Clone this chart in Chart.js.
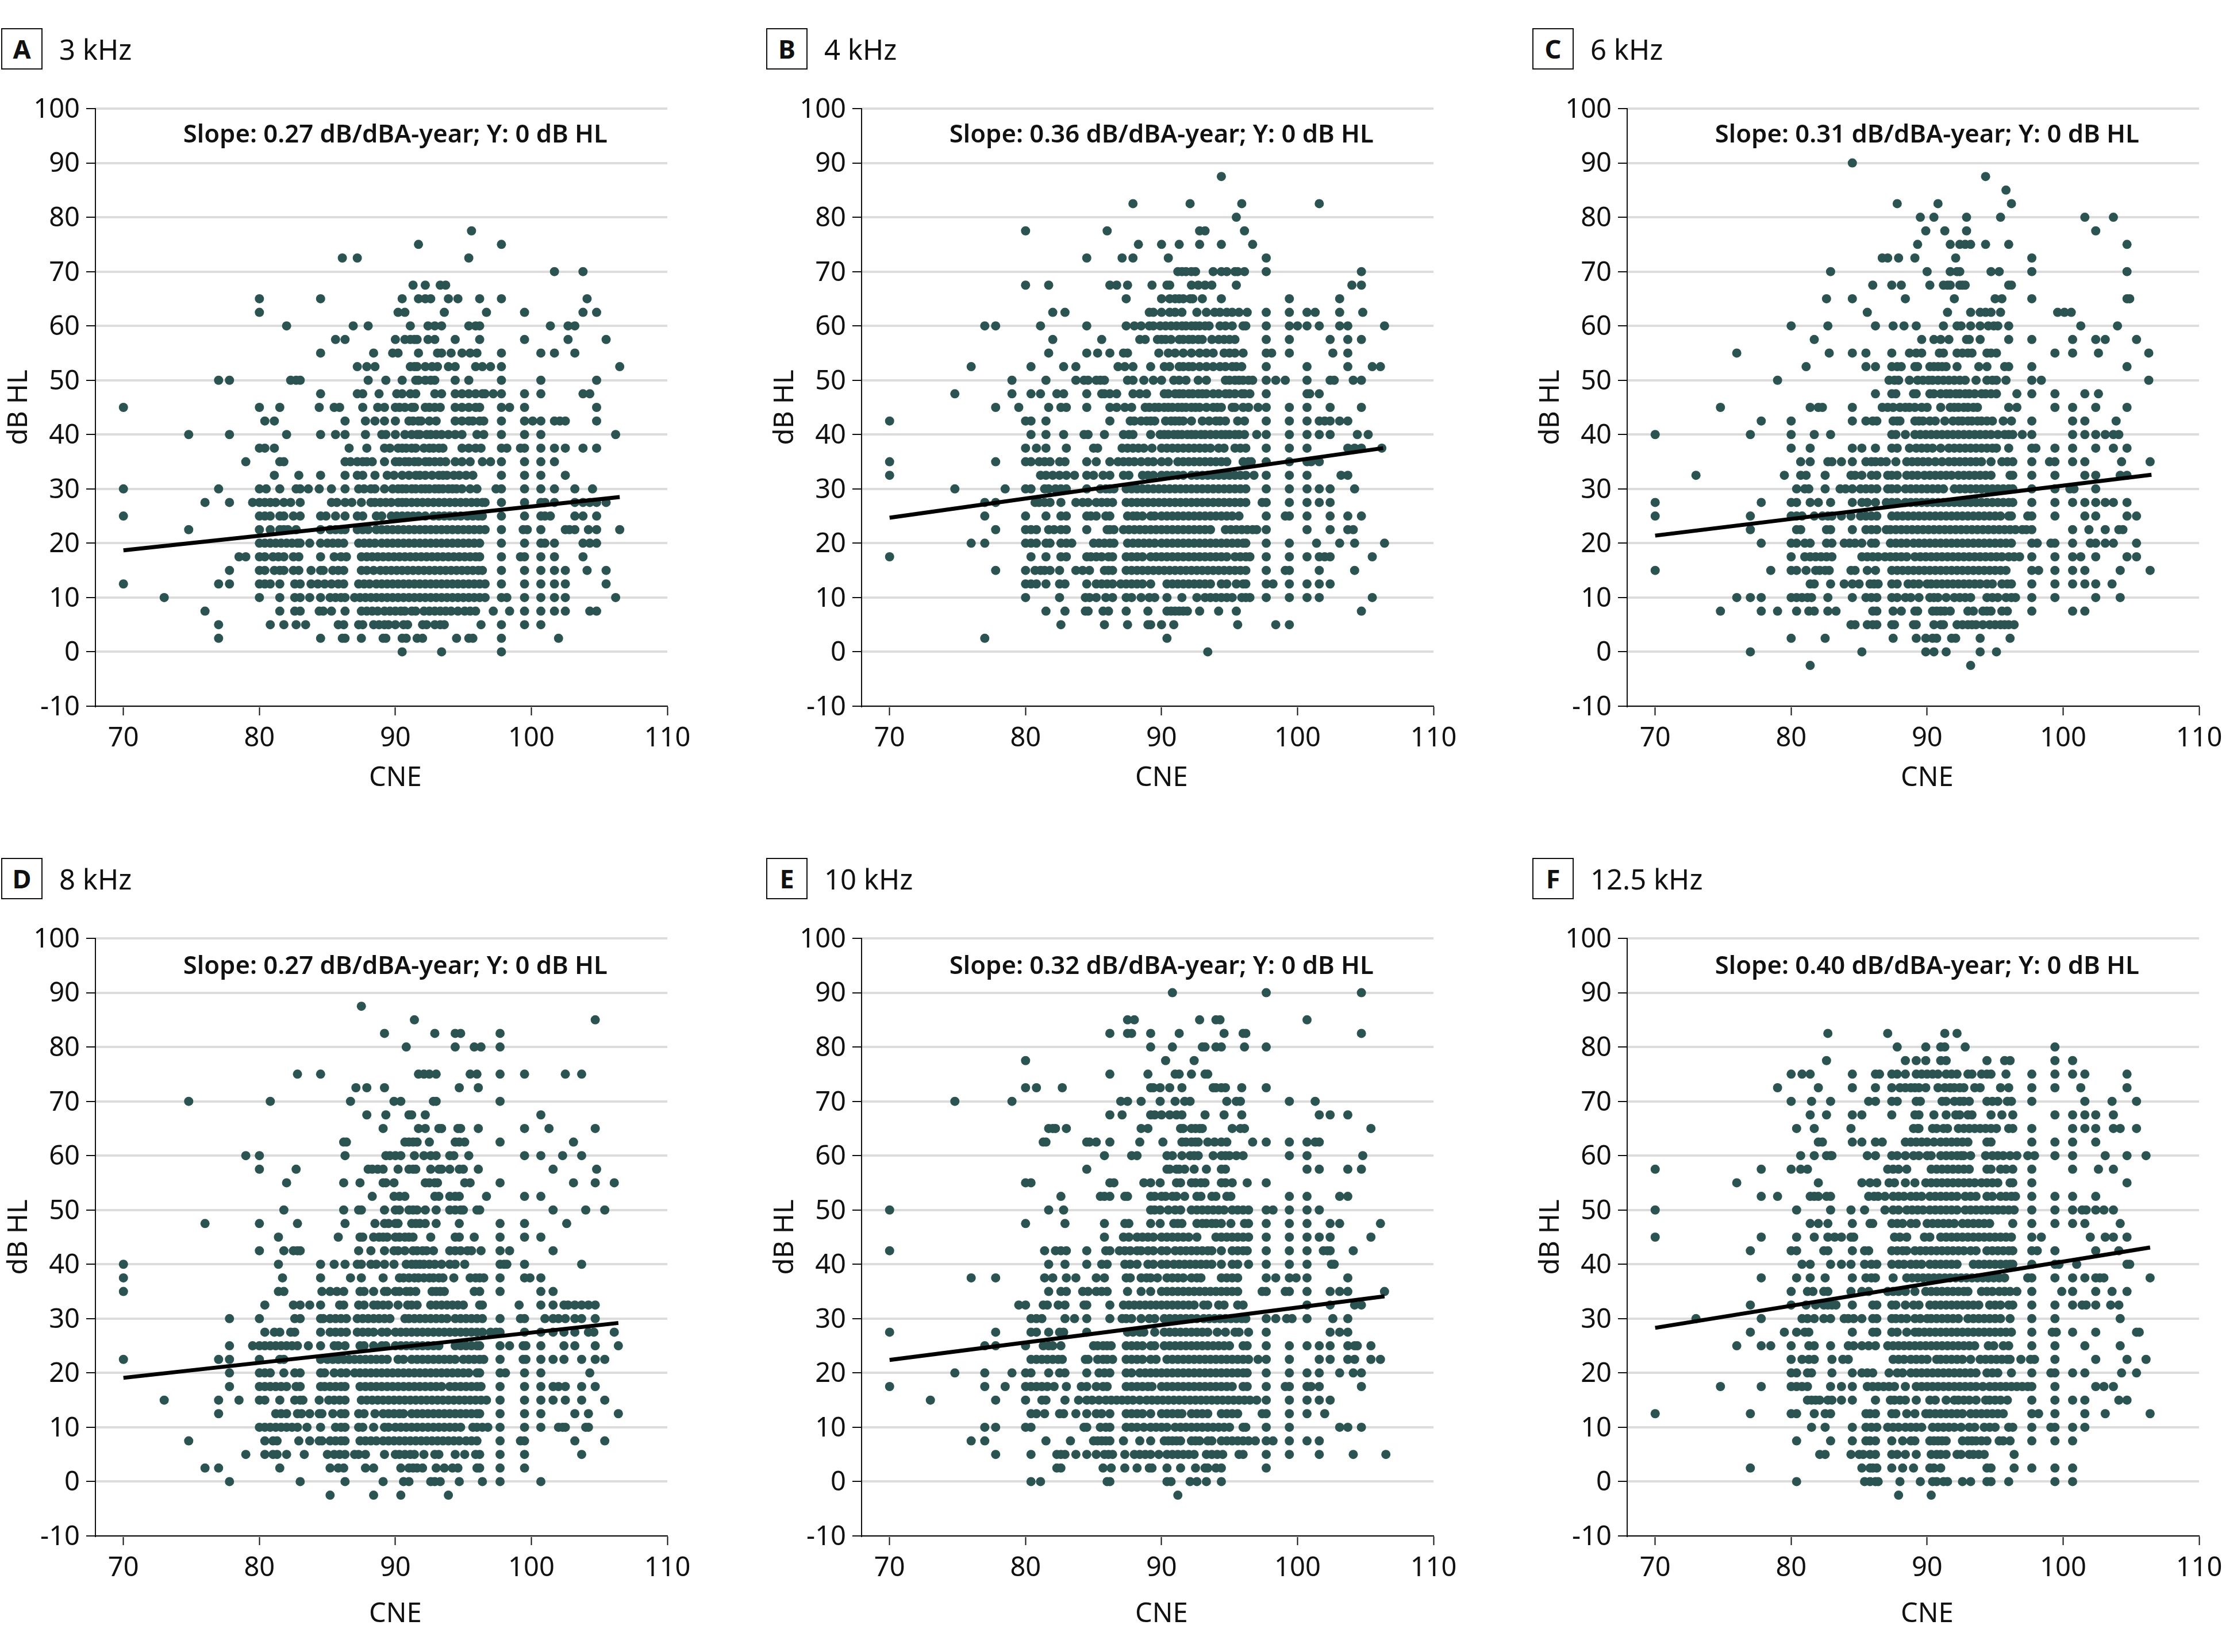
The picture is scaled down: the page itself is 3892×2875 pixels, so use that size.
<!DOCTYPE html>
<html>
<head>
<meta charset="utf-8">
<title>Hearing level by CNE</title>
<script src="https://cdn.jsdelivr.net/npm/chart.js@4/dist/chart.umd.min.js"></script>
<style>
  body { margin: 0; background: #fff; width: 3892px; height: 2875px; position: relative; overflow: hidden; }
  canvas { position: absolute; }
  .tag { position: absolute; width: 68px; height: 68px; border: 2px solid #111; font: 700 45px "Noto Sans", sans-serif; color: #111; text-align: center; line-height: 68px; }
  .freq { position: absolute; font: 400 49px "Noto Sans", sans-serif; color: #111; line-height: 72px; white-space: nowrap; }
</style>
</head>
<body>
<script>
// each row: [dB HL, [CNE values read along that row]]
const pointsA = [
  [77.5,[95.6]],[75,[91.7,97.8]],[72.5,[86.1,87.2,95.4]],[70,[101.7,103.8]],
  [67.5,[91.3,92.2,93.3,93.7]],
  [65,[80,84.5,90.5,91.7,92.2,92.6,93.9,94.6,96.2,97.8,104.1]],
  [62.5,[80,90.2,90.7,93.6,96.7,99.5,103.8,104.8]],
  [60,[82,86.9,88,91.1,92.4,92.9,93.4,95.4,95.9,96.2,101.4,102.7,103.2]],
  [57.5,[85.6,86.3,90,90.7,91.1,91.4,91.6,92.4,92.9,94.4,96.2,99.5,102.7,105.5]],
  [55,[84.5,88.4,89.8,90.2,91.7,93.1,93.4,94.1,94.9,95.5,96,97.8,100.7,101.7,103.2]],
  [52.5,[87.2,87.9,88.5,91.1,91.4,91.6,92.2,92.7,93.1,93.9,94.4,95.9,96.4,97,97.8,106.5]],
  [50,[77,77.8,82.3,82.7,83,88,89.3,90.5,91.5,91.7,92.2,92.6,92.9,94.4,95.4,97.8,100.7,104.8]],
  [47.5,[84.5,87.2,87.6,88.8,90.1,90.5,91.1,91.5,92.9,93.4,94.4,94.9,95.4,95.9,96.4,96.6,97.2,97.8,99.5,100.7,103.8,104.3]],
  [45,[70,80,81.5,84.4,85.5,85.9,87.6,88.7,89.2,90,90.3,90.7,91.2,91.4,92.2,92.5,92.9,93.3,94.4,94.9,95.4,95.9,96.2,97.8,98.4,99.5,104.8]],
  [42.5,[80.4,81.1,86.3,87.8,88.5,89.2,90,91,91.3,91.7,91.9,92.5,93,94.4,94.9,95.4,95.7,96.2,96.5,97.8,99.5,100.1,100.7,101.7,102.1,102.5,104.8]],
  [40,[74.8,77.8,82,84.5,85.6,86.3,87.8,89,89.3,90,90.7,91.2,91.6,91.8,92.3,92.6,93,93.4,93.9,94.4,94.9,96,96.5,97.8,99.5,100.7,106.2]],
  [37.5,[80,80.4,81.1,86.6,87.9,89.2,89.6,90.2,90.5,90.8,91.2,91.5,92.1,92.5,92.8,93.2,93.5,94.9,95.4,95.9,96.3,97.8,98.2,99.2,99.5,100.7,101.7,102.5,103.8,104.8]],
  [35,[79,81.5,81.8,86.3,86.7,87.2,87.6,87.9,88.3,89.2,90,90.3,90.7,91,91.4,91.7,92.2,92.5,92.9,93.3,93.7,94.4,94.9,95.5,96.4,97,97.8,99.5,100.7,101.7]],
  [32.5,[81.1,82.9,84.5,86.3,87.2,87.6,88.5,89.4,89.9,90.5,91,91.5,91.8,92.2,92.7,93.2,93.5,93.8,94.3,94.7,95.2,95.7,97.8,99.5,100.7,102.5]],
  [30,[70,77,80,80.5,81.5,82.7,83,83.6,84.4,85.3,86.3,87.3,87.7,88.2,88.5,89.2,89.8,90.2,90.5,90.8,91.2,91.5,91.9,92.2,92.5,92.9,93.2,93.5,93.9,94.2,94.5,94.9,95.5,96,97.4,97.8,99.5,100.7,101.7,103.2,104.5]],
  [27.5,[76,77.8,79.5,80,80.4,80.8,81.2,81.8,82.3,83,85.3,85.7,86.3,86.8,87.5,88.2,88.5,88.9,89.3,89.7,90.2,90.5,90.8,91.2,91.6,92,92.4,92.8,93.2,93.6,94,94.4,94.8,95.2,95.6,96,96.4,96.6,97.8,99.5,100.7,101,101.7,103.2,103.8,104.3,104.8,105.5]],
  [25,[70,80,80.4,80.8,81.5,81.8,82.5,83,84.5,84.9,85.6,86.3,87.2,87.6,88.6,89,89.7,90.1,90.5,90.9,91.3,91.7,92.2,92.8,93.2,93.6,94,94.4,94.8,95.3,95.7,96.1,96.4,97.8,99.5,100.7,101,101.4,103.2,103.8,104.8]],
  [22.5,[74.8,80,80.8,81.5,81.8,82.1,82.7,84.5,85.2,85.6,86,86.3,87.2,87.6,88,88.6,89,89.4,89.8,90.2,90.6,91,91.4,91.8,92.2,92.6,93,93.4,93.8,94.2,94.6,95,95.4,95.8,96.2,96.6,97.8,99.4,99.7,100.7,102.5,102.8,103.2,104.2,104.8,106.5]],
  [20,[80,80.4,80.8,81.2,81.6,82,82.4,82.8,83,83.7,84.5,85,85.4,85.8,86.2,87.3,87.7,88.1,88.5,89,89.4,89.8,90.2,90.6,91,91.4,91.8,92.2,92.6,93,93.4,93.8,94.2,94.6,95,95.4,95.8,96.2,97.8,99.5,100.7,101,101.7,103.8,104.3,104.8]],
  [17.5,[78.5,79,80,80.4,81,81.4,81.8,82.5,82.9,84.5,85.5,86,86.4,87.5,87.9,88.3,88.7,89.1,89.5,89.9,90.3,90.7,91.1,91.5,91.9,92.3,92.7,93.1,93.5,93.9,94.3,94.7,95.1,95.5,95.9,96.2,97.8,99.2,99.5,100.7,101.7,103.8]],
  [15,[77.8,80,80.4,81.1,81.5,81.8,82.5,82.9,83.8,84.5,84.7,85.4,85.8,86.2,87.5,87.9,88.4,88.9,89.3,89.7,90.1,90.5,90.9,91.3,91.7,92.1,92.5,92.9,93.3,93.7,94.1,94.5,94.9,95.3,95.7,96.1,96.4,97.8,99.5,100.7,101.7,102.5,104.1,105.5]],
  [12.5,[70,77,77.8,80,80.4,80.8,81.5,82.6,83,83.8,84.3,84.8,85.3,85.8,86.2,87.3,87.7,88.1,88.6,89,89.4,89.8,90.2,90.6,91,91.4,91.8,92.2,92.6,93,93.4,93.8,94.2,94.6,95,95.4,95.8,96.2,96.6,97.8,99.5,100.7,101.7,102.5,105.5]],
  [10,[73,80,81.5,82.6,83,83.7,84.5,85.2,85.6,86,86.3,87,87.4,87.8,88.2,88.6,89,89.4,89.8,90.2,90.6,91,91.4,91.8,92.2,92.6,93,93.4,93.8,94.2,94.6,95,95.4,95.8,96.2,96.6,97.8,98.2,99.5,100.7,101.7,102.5,106.2]],
  [7.5,[76,81.5,82.6,83,84.4,84.7,85.3,86.3,87.5,87.9,88.3,88.7,89.2,89.6,90,90.4,90.7,91.2,91.5,92.1,92.5,92.9,93.3,93.7,94.1,94.6,95.1,95.5,95.9,97.2,98.4,99.5,100.7,101.7,102.5,104.3,104.8]],
  [5,[77,80.8,81.8,82.7,83.4,85.8,86.2,87.3,87.6,88.4,88.8,89.2,89.5,90,90.6,90.9,92,92.3,92.9,93.3,93.6,96.3,97.8,99.5,100.7]],
  [2.5,[77,84.5,86.1,86.3,87.5,89.1,89.3,90.5,90.8,91.6,92,94.5,95.4,95.7,97.8,102]],
  [0,[90.5,93.4,97.8]]
];

const pointsB = [
  [87.5,[94.4]],[82.5,[87.9,92.1,95.9,101.6]],[80,[95.5]],[77.5,[80,86,92.8,93.2,96.1]],
  [75,[88.3,90,91.3,92.8,94.4,96.7]],[72.5,[84.5,87.1,87.9,90.5,97.7]],
  [70,[91.2,91.5,91.8,92.2,92.5,93.8,94.4,94.8,95.4,95.6,96.1,97.7,104.7]],
  [67.5,[80,81.7,86.2,86.7,87.5,89.3,90.4,90.6,92.2,92.7,93.2,93.7,95.5,104,104.7]],
  [65,[87.4,90,90.6,91,91.3,91.6,92.1,92.3,93,94.4,99.4,103.1]],
  [62.5,[82,82.9,89.1,89.4,90,90.6,91,91.5,92.6,93.3,93.9,94.3,94.8,95.2,95.7,96.3,97.7,99.4,100.7,101.3,103.1,104.8]],
  [60,[77,77.8,81.1,84.5,87.4,88,88.5,89.1,89.4,89.9,90.3,90.7,91.1,91.5,91.8,92.2,92.5,92.8,93.2,93.5,94.3,94.7,95.2,96,96.2,97.7,99.4,100,100.7,101.6,103.1,103.7,106.4]],
  [57.5,[82,85.6,88.4,88.8,89.7,90,90.3,90.7,91.3,91.6,92,92.3,92.7,93,93.7,94.2,94.6,95,95.4,97.7,99.4,102.4,103.7,104.7]],
  [55,[81.7,84.5,85.3,86.2,87.2,87.5,89.8,90.5,91,91.6,92.2,92.8,93.3,93.8,94.6,95,95.4,96,97.7,98.1,99.4,102.6,103.7]],
  [52.5,[76,80.4,82.8,83.7,86.8,87.3,87.9,89.2,90.2,90.6,91.3,91.6,92,92.3,92.8,93.3,93.8,94.3,94.7,95.2,95.5,95.9,97.7,100.7,103.7,105.5,106.1]],
  [50,[79,81.5,83.7,84.3,84.6,85.2,85.5,85.8,87.5,87.9,88.7,89.4,90,90.9,91.3,91.8,92.7,93.3,94.7,95,95.4,95.7,96,96.4,96.7,97.7,98.4,99.1,100.7,102.4,102.7,104.1,104.7]],
  [47.5,[74.8,79,80.4,81.1,82.3,82.8,84.5,85.6,85.8,86.2,86.7,87.9,88.4,88.9,90.2,90.5,91,91.3,91.6,92,92.3,92.7,93,93.3,93.8,94.2,94.7,95,95.4,95.9,96.1,96.5,97.7,100.7,100.9,101.6]],
  [45,[77.8,79.5,81.7,82.6,83,84.5,86.2,86.7,87.3,87.8,88.8,89.1,89.5,89.8,90.2,90.5,90.8,91.2,91.5,91.8,92.2,92.5,92.8,93.3,93.8,94.1,94.4,95.2,95.4,96,96.4,97.1,97.7,99.4,100.7,102.4,104.7]],
  [42.5,[70,80,80.4,81.5,86.2,87.7,88,88.5,88.9,89.2,89.5,90.3,90.7,91,91.3,91.6,92.2,93,93.5,94,94.3,94.7,95.6,96.1,97.7,99.4,100.7,101.6,102,102.4,103.1,103.7]],
  [40,[80.4,81.5,82.8,84.3,84.6,85.8,87.2,87.6,87.9,89.2,89.9,90.2,90.5,90.9,91.2,91.5,91.9,92.2,92.5,92.9,93.2,93.6,94,94.4,94.7,95,95.4,95.7,96.1,97,97.7,99.4,100.7,101.6,102.4,104.4,105.2]],
  [37.5,[80,80.8,81.5,83,85,85.3,87.1,87.5,87.9,88.3,88.7,89.3,90,90.4,90.8,91.2,91.6,92,92.4,92.8,93.2,93.6,94.2,94.6,95.4,95.8,96.2,97.7,99.4,100.7,103.7,104.2,104.7,106.2]],
  [35,[70,77.8,80,80.4,81,81.4,81.8,82.5,82.9,84.5,85.2,86.2,86.8,87.2,87.6,88,88.5,89,89.4,90,90.5,91.2,91.6,92,92.4,92.8,93.2,93.6,94,94.4,94.8,96,96.4,96.6,97.7,99.4,100.7,101,101.6]],
  [32.5,[70,81.1,81.5,82,82.5,83,83.6,84.5,85,85.7,86.2,87.2,87.6,88.6,89,89.4,90,90.4,90.8,91.2,91.6,92.2,92.6,93,93.4,93.8,94.2,94.6,95,95.4,95.8,96.2,96.8,97.7,99.4,100.7,103.2,103.7]],
  [30,[74.8,78.5,80,80.4,81.4,81.7,82.2,82.6,83,84.5,85.5,85.9,86.2,86.5,87.4,87.8,88.2,88.6,89,89.4,89.8,90.2,90.6,91,91.4,91.8,92.2,92.6,93,93.4,93.8,94.2,94.6,95,95.4,95.8,96.2,97.7,99.4,100.7,101.6,102.4,104.2]],
  [27.5,[77,77.8,80.7,81,81.4,81.8,82.6,83.7,84.2,84.6,85.2,85.6,86,86.4,87.4,87.8,88.2,88.6,89,89.4,89.8,90.2,90.6,91,91.4,91.8,92.2,92.6,93,93.4,93.8,94.2,94.6,95,95.4,95.8,96.2,97.4,97.7,99.4,100.7,101.6,102.4]],
  [25,[77,80,81.5,82.6,83,84.5,84.8,85.2,85.9,86.2,87.5,87.9,88.2,88.6,89.2,89.5,90,90.4,90.8,91.2,91.6,92,92.4,92.8,93.2,93.6,94,94.4,94.8,95.2,95.7,97.7,99.1,99.4,100.7,102.4,103.7,104.7]],
  [22.5,[77.8,80,80.4,80.8,81.7,82.1,82.6,83,84.5,86,86.2,86.5,87.2,87.6,88,88.4,88.8,89.2,89.6,90,90.4,90.8,91.2,91.6,92,92.4,92.8,93.2,93.6,94.7,95.1,95.5,95.9,96.3,96.7,97,97.7,100.7,102.4,103.7,104.1]],
  [20,[76,77,80,80.4,80.8,81.5,81.8,82.6,83,83.4,85,85.4,85.8,86.2,86.5,87.5,87.9,88.3,88.7,89.1,89.5,90,90.4,90.8,91.2,91.6,92,92.4,92.8,93.2,93.6,94,94.4,94.8,95.2,95.6,96,96.2,97.7,99.4,101.4,103.1,104.2,106.4]],
  [17.5,[70,80.4,81.5,82.6,83,84.5,84.8,85.2,85.6,86.1,86.4,87.4,87.8,88.2,88.6,89.2,89.6,90,90.4,90.8,91.2,91.6,92,92.4,92.8,93.2,93.6,94,94.4,94.8,95.4,95.8,96.2,96.5,97.7,99.4,100.7,101.6,102,102.4,105.5]],
  [15,[77.8,80,80.7,81.1,81.4,81.8,82.5,83.7,84.2,84.7,85.8,86.1,86.4,87.4,87.8,88.2,88.6,89,89.4,89.8,90.2,90.6,91,91.4,91.8,92.2,92.6,93,93.4,93.8,94.2,94.6,95,95.4,95.8,96.2,97.7,99.1,99.4,101.6,104.2]],
  [12.5,[80,80.4,80.8,81.5,82.5,82.9,84.5,85.2,85.6,86,86.4,87,87.4,87.8,88.2,88.6,89.2,90.4,90.8,91.2,91.6,92,92.4,92.8,93.2,93.6,94.4,94.8,95.5,96,96.2,97.7,98.2,99.4,100.7,101.6,102.4]],
  [10,[80,82.5,84.4,84.7,85.2,85.9,86.4,87.4,87.8,88.5,89.1,89.5,90.4,91.5,92.6,93.2,93.6,94,94.4,94.8,95.2,95.9,96.2,96.5,97.7,99.4,100.7,101.6,105.5]],
  [7.5,[81.5,82.9,84.4,84.6,85.7,86.1,87.4,89,90.4,90.7,91,91.3,91.6,91.9,92.8,94.2,95.5,104.7]],
  [5,[82.6,85.8,87.5,89,89.2,90,90.9,95.6,98.4,99.4]],
  [2.5,[77,90.4]],[0,[93.4]]
];

const pointsC = [
  [90,[84.5]],[87.5,[94.3]],[85,[95.8]],[82.5,[87.8,90.8,96.2]],
  [80,[89.5,90.5,92.9,95.4,101.6,103.7]],[77.5,[89.9,91.3,92.9,102.4]],
  [75,[89.3,91.7,92.4,92.8,93.2,94.3,96,104.7]],[72.5,[86.7,87.1,87.9,89.1,92.1,97.7]],
  [70,[82.9,90,91.7,92.2,92.4,94.7,95.3,97.7,104.7]],
  [67.5,[86,87.4,88.1,90.2,91.2,91.5,91.7,92.4,92.6,92.8,96,96.2]],
  [65,[82.6,84.5,88.4,92,95,95.5,97.7,104.7,104.9]],
  [62.5,[85.6,91.5,93.2,93.9,94.3,94.7,95.4,99.6,100.1,100.6]],
  [60,[80,82.7,86.2,87.5,88.3,89.2,91.2,92.2,92.5,93.2,93.9,94.5,94.9,95.2,96,101.3,104]],
  [57.5,[81.7,89.6,90.5,91,91.6,92.9,93.1,93.9,96,97.7,100.7,102.4,103.1,105.4]],
  [55,[76,82.8,84.5,85.5,87.4,88.7,89.2,89.6,90.9,91.2,92.2,92.6,93,93.3,94.4,94.7,95.1,99.4,100.7,102.6,106.3]],
  [52.5,[81.1,85.5,86.2,87.4,87.8,88.1,89.1,89.3,90.2,90.5,90.8,91.1,91.4,92.2,93.8,94.4,95.7,96,97.7,104.7]],
  [50,[79,87.2,87.6,87.9,88.7,89.3,89.7,90.1,90.4,90.8,91.2,91.6,92,92.4,92.8,93.6,94.4,94.8,95.1,95.8,97.7,98.4,106.3]],
  [47.5,[86.2,87.4,87.7,89,89.2,90.2,90.5,91,91.4,91.7,92.1,92.4,92.8,93.1,93.5,94,94.3,94.7,95.1,96.6,97.7,99.4,101.6,102.6]],
  [45,[74.8,81.4,82,82.3,84.5,86.7,87.1,87.5,88,88.4,88.7,89.1,89.6,90,91,91.7,92,92.3,92.7,93,93.4,93.7,96,96.6,99.4,100.7,102.4,104.7]],
  [42.5,[77.8,80,84.5,85.5,86,86.3,87.5,87.8,88,89.1,89.4,89.7,90.2,90.6,91.3,91.9,92.3,92.6,93,93.3,93.7,94,94.4,94.8,95.6,96.2,97.7,100.7,101.6,103.9]],
  [40,[70,77,80,81.7,82.9,87.4,87.7,88.4,89.1,89.5,89.9,90.3,90.7,91.1,91.5,91.9,92.3,92.7,93.1,93.5,93.9,94.3,94.7,95.2,95.7,96,96.3,97,97.7,100.7,101.6,102.4,103.1,103.7,104.1]],
  [37.5,[80,81.4,84.5,85.2,86.2,87.4,87.8,88.7,89.2,89.6,90,90.4,91,91.6,92,92.4,92.8,93.2,93.6,94,94.4,94.8,95.1,96,97.7,98,99.4,100.7,102.4,103.7,104.7]],
  [35,[80.7,81.4,82.7,83,83.7,84.5,85.5,85.9,86.2,86.6,87,87.7,88.5,88.9,89.3,89.7,90.1,90.6,91.1,91.6,92,92.4,92.8,93.2,93.6,94,94.7,95.5,95.9,96.3,97.7,99,99.4,100.7,101.6,104.3,106.4]],
  [32.5,[73,79.5,80.7,81.1,82.5,84.4,84.7,85.2,85.9,86.3,87.1,87.4,87.8,88.5,88.9,89.3,89.8,90.2,90.6,91,91.4,91.8,92.3,92.7,93.1,93.5,93.9,94.3,94.7,96.1,96.3,97.7,99.4,101.6,102.4,104.2,104.7]],
  [30,[80.4,81,81.3,82.5,83.6,84,84.5,85.1,85.5,85.9,86.3,87.1,87.4,87.8,88.4,88.8,89.2,89.6,90,90.4,90.8,91.2,92,92.4,92.8,93.2,93.6,94,94.4,94.8,95.2,95.6,96,96.3,97.7,99.4,100.5,100.8,102.4]],
  [27.5,[70,77.8,80,80.4,81.4,82,82.9,84.5,85.2,85.6,86.2,87,87.4,87.8,88.4,88.8,89.2,89.6,90,90.4,90.8,91.2,91.6,92,92.4,92.8,93.2,93.6,94,94.4,94.8,95.2,95.6,96,96.3,97.7,99.4,100.7,101.6,102.4,103.1,103.7,104.7]],
  [25,[70,77,80,80.4,80.8,81.7,82.3,82.7,83,83.7,84.4,85.1,85.5,85.9,86.3,87.4,87.8,88.2,88.6,89,89.4,89.8,90.2,90.6,91,91.4,91.8,92.2,92.6,93,93.4,93.8,94.2,94.6,95,95.4,96,96.2,97.4,97.7,99.4,101.6,102.4,104.7,105.4]],
  [22.5,[77,80.4,80.7,82.6,82.9,84.5,85.5,85.9,86.3,87,87.3,87.7,88.1,88.5,88.9,89.3,89.7,90.1,90.5,90.9,91.3,91.7,92.1,92.5,92.9,93.3,93.7,94.1,94.5,94.9,95.3,95.7,96.1,96.5,97,97.3,97.7,100.7,101.9,103.1,104.1,104.4]],
  [20,[77.8,80,80.4,81,81.4,82.6,83,83.9,84.3,84.7,85.2,85.9,86.2,87.3,87.7,88.1,88.5,89,89.4,89.8,90.2,90.6,91,91.4,91.8,92.2,92.6,93,93.4,93.8,94.2,94.6,95,95.4,95.8,96.2,97.7,98.1,99.1,99.4,100.7,102,102.4,103.1,103.7,105.4]],
  [17.5,[80,81,81.4,81.8,82.2,82.6,83,85.2,85.6,86,86.4,86.9,87.3,87.7,88.1,88.5,89.1,89.5,89.9,90.3,90.7,91.1,91.5,91.9,92.3,92.7,93.1,93.5,93.9,94.3,94.7,95.1,95.5,96,96.4,96.8,97.7,99.4,100.7,101.3,102.4,104.7,105.4]],
  [15,[70,78.5,80,80.4,81.1,81.8,82.1,82.5,82.8,84.4,84.7,85.6,86.2,87.4,87.8,88.2,88.6,89,89.4,89.8,90.2,90.6,91,91.4,91.8,92.2,92.6,93,93.4,93.8,94.2,94.6,95,95.4,95.8,97.7,98.2,99.4,100.7,101.6,104.2,106.4]],
  [12.5,[81.4,81.7,82.9,83.9,84.5,85,85.8,86.1,86.4,87.4,87.8,88.6,89,89.4,90,90.3,90.7,91.1,91.5,91.9,92.3,92.7,93.1,93.5,93.9,94.4,94.8,95.5,95.9,96.2,97.7,99.4,100.7,101.6,102.4,103.6]],
  [10,[76,77,77.8,80,80.4,80.8,81.2,81.5,82.7,84.5,85.5,85.9,86.3,87.4,87.8,88.4,88.8,89.4,90.2,90.5,90.8,91.4,92,92.4,92.8,93.2,94.4,94.8,95.2,95.8,96.2,96.5,97.7,99.4,102.4,104.2]],
  [7.5,[74.8,77.8,79,80.4,81.3,81.7,82.7,83.3,86,86.3,87.5,88.1,89.1,89.3,90.4,90.7,91,91.3,91.7,93,93.4,94.1,94.4,94.7,95.5,95.9,97.7,100.7,101.6]],
  [5,[84.4,84.7,85.6,86,86.3,87.4,87.6,89,89.2,90.5,91,91.2,92.2,92.6,93,93.3,93.6,94.1,94.6,95,95.4,95.7,96,96.4]],
  [2.5,[80,82.5,87.5,89.2,89.9,90.4,90.7,91.8,92.1,93.9,96.1]],
  [0,[77,85.2,89.9,90.5,91.4,93.9,95.1]],[-2.5,[81.4,93.2]]
];

const pointsD = [
  [87.5,[87.5]],[85,[91.4,104.7]],[82.5,[89.2,92.9,94.4,94.8,97.7]],
  [80,[90.8,94.4,95.8,96.3,97.7]],[75,[82.8,84.5,91.7,92.1,92.5,93,95.5,96,97.7,99.5,102.5,103.7]],
  [72.5,[87.1,87.9,89.2,94.7,96.1]],[70,[74.8,80.8,86.7,89.9,90.4,92.8,93,97.7]],
  [67.5,[87.9,89.3,91,91.2,92.2,100.7]],[65,[89.1,91.7,92.2,93.2,93.4,94.6,94.8,96.1,99.5,101.3,104.7]],
  [62.5,[86.2,86.4,90.7,91,91.3,91.6,92.5,94.4,94.7,95.1,97.7,103.1]],
  [60,[79,80,86.3,89.3,89.6,90,90.4,91.4,92.1,92.6,93,94,94.3,95.4,99.5,100.7,102.3,103.7]],
  [57.5,[80,82.7,88,88.3,88.7,89.1,90.2,91,91.3,91.5,92.6,93.2,93.4,94,94.7,95,96.1,101.6,104.8]],
  [55,[82,86.2,87.4,89.1,89.3,89.9,92.2,92.5,92.9,93.1,95.1,95.5,97.7,103.1,104.7,106.1]],
  [52.5,[88.3,89.9,90.3,90.7,92.9,93.2,94,94.4,94.7,96.7,99.5,100.7]],
  [50,[81.8,86.2,87.3,87.5,89.2,90,90.3,91,91.3,91.6,92.2,93,94,94.4,94.8,95,96,96.2,101.6,104,105.4]],
  [47.5,[76,80,82.8,86.3,88.5,89.2,89.5,90,90.2,91.2,91.5,91.8,92.2,93,94.7,97.7,99.5,102.6]],
  [45,[81.4,85.8,87.4,87.6,88.4,88.8,89.1,89.4,90,90.3,90.7,91,91.3,92.6,94.4,94.7,95.8,97.7,99.5,100.7]],
  [42.5,[80,81.8,82.5,82.8,83,87.3,88.2,89.2,89.9,90.2,90.7,91.3,91.6,92,92.3,92.8,94,94.4,94.8,95.3,95.6,96.3,97.7,98.4,101.6]],
  [40,[70,81.4,84.5,85.5,86.3,87.2,87.5,88.2,88.6,89.2,89.9,90.8,91.2,91.5,91.8,92.1,92.5,92.9,93.4,94,94.4,95.1,97.7,98,98.2,99.5,103.7]],
  [37.5,[70,81.7,84.5,86.7,87.5,89.1,90.3,90.6,91,91.4,91.7,92.1,92.5,92.8,93.2,93.5,94.3,95.5,95.9,96.2,96.5,97.7,99.5,99.9,100.7]],
  [35,[70,81.4,81.8,84.6,85.2,85.7,86.2,87.4,87.7,88.4,89.2,89.4,90,90.3,90.8,91.1,91.5,92.7,93,93.3,93.6,95.8,96.2,97.7,100.7,101.6]],
  [32.5,[80.4,82.5,83,83.7,84.5,85.9,86.2,87.3,87.7,88.4,88.7,89.1,89.5,90.2,90.9,91.2,91.6,92.6,93,93.4,93.8,94.2,94.6,95,96.2,96.4,99.1,100.7,101.6,102.4,102.7,103.2,103.7,104.2,104.7]],
  [30,[77.8,80,82.6,83,84.5,84.7,85.2,85.6,86,86.4,87.2,87.6,88,88.4,88.8,89.2,89.6,90.7,91,91.4,91.8,92.2,92.6,93,93.4,93.8,94.4,94.8,95.2,95.6,96,96.4,97.7,99.2,99.5,101,101.6,102,102.5,103.2,103.7,104.7]],
  [27.5,[80.4,81.1,81.5,82.3,82.6,84.5,85.2,85.6,86,86.4,87.2,87.6,88,88.4,89,89.4,90,90.4,90.8,91.2,91.6,92,92.4,92.8,93.2,93.6,94,94.4,94.8,95.2,95.6,96,96.4,97,97.4,97.7,99.5,100.7,101.6,102.4,103.2,104.2,104.6,106.1]],
  [25,[77.8,79.5,80,80.4,80.8,81.2,81.6,82,82.4,82.8,83.6,84.5,85.5,85.8,86.3,87.4,87.7,88.4,89,89.3,90,90.4,90.8,91.2,91.6,92,92.4,92.8,93.2,94.4,94.8,95.2,95.6,96,96.2,97.7,98.4,99.4,99.6,100.7,102.4,103.2,104.7,106.4]],
  [22.5,[70,77,77.8,80,81.5,81.8,84.5,85,85.4,85.8,86.2,86.6,87,87.4,87.8,88.2,88.6,89,89.4,90.2,90.6,91.2,91.6,92,92.4,92.8,93.2,93.6,94,94.4,95,95.4,95.8,96.2,96.5,97.7,99.4,99.6,100.7,101.6,102.4,103.7,104.7,105.4]],
  [20,[77.8,80,80.4,80.8,81.8,82.6,83,84.5,84.8,85.5,86,86.4,87,87.4,87.8,88.2,88.6,89,89.4,89.8,90.2,90.6,91,91.4,91.8,92.2,92.6,93,93.4,93.8,94.2,94.6,95,95.4,96,96.2,97.7,98.1,99.5,100.7,104.3]],
  [17.5,[77.8,80,80.4,80.8,81.2,81.6,82,82.7,83,84.5,84.8,85.2,85.6,86,86.3,87.4,87.8,88.2,88.6,89,89.4,89.8,90.2,90.6,91,91.4,91.8,92.2,92.6,93,93.4,94,94.4,94.8,95.2,95.6,96,96.3,97.7,99.5,100.7,101.6,102,102.5,103.7,104.7]],
  [15,[73,77,78.5,80,80.4,81.5,82.6,83,83.2,84.4,85.1,85.5,85.9,86.3,87.5,87.9,88.3,88.7,89.1,89.5,89.9,90.3,90.7,91.1,91.5,91.9,92.3,92.7,93.1,93.5,93.9,94.3,94.7,95.1,95.5,95.9,96.3,96.7,97.7,99.5,100.7,101.6,102.5,103.7,105.4]],
  [12.5,[77,81.2,81.6,82,82.8,83.1,83.7,84.4,84.6,85.4,86,86.3,87.3,87.7,88.5,89.1,89.5,89.9,90.3,90.6,91.2,91.6,92,92.4,92.8,93.2,93.6,94,94.4,94.8,95.2,95.6,96,96.2,97.7,99.5,100.7,103.2,104.2,106.4]],
  [10,[80,80.4,80.8,81.2,81.6,82,82.4,82.8,83.5,84.5,85.6,86,86.3,87.3,87.6,88.4,89.2,89.5,90,90.4,90.8,91.2,91.6,92,92.4,92.8,93.2,93.6,94,94.4,94.8,95.7,96,96.4,96.8,97.7,99.5,100.7,102,102.3,102.5,104,104.2]],
  [7.5,[74.8,80.4,81,81.3,82.9,83.7,84.4,84.6,85.2,85.6,86,86.3,87.4,87.8,88.2,88.6,89.1,89.5,89.9,90.3,90.7,91.1,91.5,91.9,92.3,92.7,93.1,93.5,93.9,94.3,94.7,95.2,95.6,96,97.7,99.2,99.5,103.2,105.4]],
  [5,[79,80.4,81,81.3,82,83.3,85,85.5,85.9,86.3,87,87.3,87.8,89.2,90,90.3,90.7,91.1,91.4,92.1,92.9,93.2,94.4,95.1,95.9,96.2,97.7,99.5,103.7]],
  [2.5,[76,77,81.5,85.2,85.8,86.2,87.8,88.4,90.4,91,91.3,91.6,92,93,93.6,94.2,94.6,96,96.2,97.7,99.5]],
  [0,[77.8,83,86.3,89.1,90.6,91,92.6,92.9,93.3,94.7,96.4,97.7,100.7]],[-2.5,[85.2,88.4,90.4,93.9]]
];

const pointsE = [
  [90,[90.8,97.7,104.7]],[85,[87.5,88,92.8,94,94.3,100.7]],
  [82.5,[86.2,87.5,87.8,89.2,91.3,94.6,96,96.2,104.7]],
  [80,[89.2,90.8,93,93.2,94,94.4,96.1,97.7]],[77.5,[80,90.3,92.4]],
  [75,[86.2,89,91,91.3,92.2,93.2,93.4]],
  [72.5,[80,80.8,82.7,89.2,89.4,89.9,90.6,91.5,93.8,94,94.4,94.7,95.9,97.7]],
  [70,[74.8,79,87,87.5,88.5,89.9,91,91.7,92.1,94.8,95.5,95.8,99.4,101.3]],
  [67.5,[86.2,87.1,89.2,89.5,90,90.6,91.1,91.5,93.2,94.6,95.9,101.6,102.4,103.7]],
  [65,[81.7,82,82.2,83,88.5,89,91.4,91.6,92.2,92.5,92.8,93,95.2,95.8,96.1,105.4]],
  [62.5,[81.3,81.5,84.5,84.7,85.2,86.2,88.4,90.1,91.5,91.8,92.2,92.5,92.7,93.4,93.9,94.4,94.8,96.7,97.7,99.4,100.7,101.3,101.6]],
  [60,[85.8,87.8,88.2,90.4,90.8,91.5,92.1,92.4,92.7,93.8,94.4,94.7,95,95.5,96,99.4,100.7,104.8]],
  [57.5,[84.5,90.4,90.6,91.1,91.3,91.7,92.4,93.3,94.4,94.7,100.7,101.6,103.7,104.7]],
  [55,[80,80.4,86.2,86.5,88.7,89.2,89.9,91.1,91.4,92.2,92.5,92.9,93.2,94.4,94.7,95.2,96.3,97.7]],
  [52.5,[82.6,85.5,85.8,86.2,87.3,87.5,89.2,89.5,90,90.3,90.8,91.1,91.7,92.6,92.9,93.7,94,94.8,95.1,99.4,100.7,103.1,103.7]],
  [50,[70,81.7,82.8,89.2,89.5,89.9,90.5,91,91.4,92.2,92.6,93,93.4,93.8,94.2,94.6,95.2,95.6,96,96.4,97.7,98.2,99.4,100.7,101.6]],
  [47.5,[80,82.9,85.8,87.3,87.6,89.2,89.9,90.9,91.2,91.5,92.6,93,93.3,93.7,94,94.4,95.1,96.1,96.4,97.7,99.4,100.7,102.4,103.1,106.1]],
  [45,[85.8,87.2,87.6,88.2,88.6,89,89.4,90,90.4,90.8,91.2,91.6,92,92.6,94,94.4,94.8,95.2,95.6,96,96.4,97.7,99.4,100.7,101.6,102.4,105.4]],
  [42.5,[70,81.4,82.2,82.6,83,84.5,85.9,86.2,86.9,87.3,87.7,88.2,88.5,89,89.4,90,90.4,91,91.4,91.8,92.2,92.6,93,93.4,93.7,94.4,95.2,95.6,96,96.3,97.7,99.4,100.7,101.9,102.2,102.4,104.1]],
  [40,[81.7,82.9,84.5,85.6,86,87.3,87.7,88.2,89,89.4,90,90.4,90.9,91.3,91.7,92.1,92.5,92.9,93.3,93.7,94.4,95.2,95.6,96.4,97.7,99.4,100.7,102.5,102.7]],
  [37.5,[76,77.8,81.4,82,83,83.7,85.2,85.8,87.4,87.7,88.5,88.9,89.2,89.7,90.4,90.8,91.2,91.6,92.2,92.6,92.9,94.4,94.8,95.2,95.6,97.7,98.4,99.4,99.9,100.7,103.7]],
  [35,[81.7,82.6,83,84.2,84.6,85.2,85.6,86,87.5,88.5,89.2,90,90.4,90.8,91.2,91.6,92,92.4,92.8,93.2,93.6,94,94.4,94.8,95.2,95.6,97.4,97.7,99.1,99.4,100.7,102.4,103.1,103.7,106.4]],
  [32.5,[79.5,80,81.3,81.6,82.4,82.9,84.3,84.5,86.2,87.2,87.6,88,88.4,88.8,89.2,89.6,90,90.4,90.8,91.2,91.6,92,92.4,93.1,93.4,94.2,94.6,95.6,96,100.7,102.4,104.2,104.7]],
  [30,[80.4,80.8,81.2,82.9,83.6,84.5,86.2,87.1,87.4,87.8,88.5,89.1,89.5,90.2,90.6,91,91.4,91.8,92.2,92.6,93.1,93.5,93.9,94.3,94.7,95.1,95.5,95.9,96.2,97.7,98.4,99.2,99.6,100.7,102.6,103.7]],
  [27.5,[70,77.8,80.4,80.8,81.7,82.5,82.8,84.5,87.5,87.9,88.4,88.7,89.5,90.2,90.6,91,91.4,91.8,92.2,92.6,93,93.4,94.1,94.7,95.4,95.7,96.4,97.7,102.4,103.1,103.7]],
  [25,[77,77.8,80,81.3,81.7,82,82.6,85,85.3,85.7,86,86.3,87.4,87.8,88.2,88.6,89.2,89.5,90.2,90.6,91,91.4,91.8,92.2,92.6,93,93.4,93.8,94.2,94.6,95,96,96.3,97.7,99.4,100.7,101.6,102.4,103.7,104.2,104.4,105.4]],
  [22.5,[80.4,80.8,81.2,81.6,82,82.4,82.7,84.4,84.6,85.3,85.7,86,86.4,87.4,87.8,88.2,88.6,89.2,89.6,90.4,90.8,91.2,91.6,92,92.4,92.8,93.2,93.6,94,94.4,94.8,95.2,95.6,96,96.4,97.1,97.7,99.4,101.6,102.4,103.7,104.2,105.4,106.1]],
  [20,[74.8,77,79,80,80.4,81.7,82.5,82.9,84.5,85.4,85.8,86.2,87.4,87.8,88.4,88.8,89.2,89.6,90,90.4,90.8,91.2,91.6,92,92.4,92.8,93.2,93.6,94,94.4,94.8,95.2,95.6,96,96.3,97.7,99.4,100.7,101.6,103.1,104.1,104.7]],
  [17.5,[70,77,78.5,80,80.4,80.8,81.2,81.6,82.1,83,84.1,84.5,85.2,85.7,86,87.4,87.8,88.2,88.6,89,89.3,90,90.4,90.8,91.2,91.6,92,92.4,92.8,93.2,93.6,94,94.4,94.8,95.2,96,96.3,97.7,99.1,99.4,100.7,101,101.6,104.7]],
  [15,[73,77.8,80,81.2,81.5,82.9,83.9,84.5,84.9,85.4,85.9,86.3,86.7,87.1,87.5,87.9,88.4,88.9,89.3,89.7,90.1,90.5,90.9,91.3,91.7,92.1,92.5,92.9,93.3,93.7,94.1,94.5,94.9,95.3,95.7,96.1,96.5,97,97.7,99.4,100.7,101.6,102.4]],
  [12.5,[80.4,80.8,81.4,82.5,82.8,83.7,84.5,85.2,85.6,86.2,87.4,87.8,88.2,88.6,89.2,90,90.4,90.8,91.2,91.5,92.2,92.6,93,93.4,94.4,94.8,95.2,95.6,97.4,97.7,99.4,100.7,102]],
  [10,[77,77.8,80,80.4,84.3,84.5,85.5,85.9,86.2,87.4,87.8,88.2,88.7,89.2,89.6,90,90.4,91,91.4,91.8,92.2,92.6,93,93.4,93.8,94.2,94.6,95,96,96.2,97.7,99.4,103.1,103.7,104.7]],
  [7.5,[76,77,81.5,83.3,85,85.3,85.6,85.9,86.2,87.2,88.4,89.2,90.2,90.5,90.8,91.1,91.4,92.2,92.5,92.8,93.4,93.7,94.4,94.8,95.2,95.6,96,96.4,96.9,97.7,98.2,99.4,100.7,101.6]],
  [5,[77.8,80.4,82.3,82.6,82.9,83.7,84.5,85.2,85.8,86.1,86.4,87.3,88,88.4,88.8,89.2,89.8,90.4,90.8,91.2,91.6,92,92.4,93.3,93.7,94.1,94.5,95.7,96,97.7,99.4,101.6,104.1,106.5]],
  [2.5,[82.3,82.6,85.7,86.3,87.3,88.2,89.1,89.3,90.4,91.4,92.5,93.2,93.4,94,94.4,97.7]],
  [0,[80.4,81.1,86,86.2,90.4,90.7,92.1,92.6,93.3,94.4]],[-2.5,[91.2]]
];

const pointsF = [
  [82.5,[82.7,87.1,91.3,92.2]],[80,[87.8,89.9,91,91.3,92.8,99.4]],
  [77.5,[82.6,88.4,89.2,89.9,91,91.4,94.4,95.7,96.1,99.4,100.7]],
  [75,[80,80.8,81.4,84.5,86.2,86.5,87.4,87.8,88.4,89.2,89.6,90,90.4,90.8,91.4,91.8,92.2,93,93.3,94,94.4,94.7,95.8,97.7,99.4,100.7,101.6,104.7]],
  [72.5,[79,82,84.5,86.2,87.4,88,88.4,88.8,89.1,89.4,89.9,90.8,91.3,91.7,92,92.4,92.7,93.5,93.9,95.4,96,97.7,99.4,101.3,104.7]],
  [70,[80,81.5,82.9,85.7,86.2,87.4,87.8,89.2,89.5,91.1,91.4,92,92.4,92.7,93.1,94.4,94.8,95.2,95.9,96.2,97.7,101.6,103.6,105.4]],
  [67.5,[81.4,82.6,84.5,85.2,87.4,89.1,89.4,90.5,91.4,92.1,92.4,93,93.3,94.7,95.5,96.3,99.4,100.7,101.6,102.4,103.7]],
  [65,[80.4,81.7,84.4,89,89.3,89.4,90.4,90.7,91.2,91.5,92.3,92.7,93.1,93.5,93.9,94.3,94.7,95.1,96,96.3,97.7,100.7,101.6,102.4,103.7,104.2,105.4]],
  [62.5,[82,82.3,84.5,85.2,86.2,86.7,88.4,88.8,89.2,89.6,90,90.5,91,91.4,91.8,92.2,92.6,93,94.4,94.7,97.7,99.4,100.7,102.4]],
  [60,[80.7,81.7,82.6,82.9,83,85.6,86.2,87.4,87.8,88.4,89,89.4,90,90.3,91,91.4,91.8,92.2,92.5,92.7,93.2,94.3,94.8,95.2,95.6,96.1,96.6,97.4,97.9,99.4,100.7,103.1,104.7,106.1]],
  [57.5,[70,77.8,80,80.7,81.2,87.1,87.5,87.9,88.5,90.3,90.7,91.1,91.5,91.9,92.3,92.7,93.1,94.4,94.7,95.4,95.8,96.3,97.7,100.7,102.6,103.7]],
  [55,[76,82,85.2,85.8,86.3,87.2,87.6,88.4,89.1,89.9,90.3,90.7,91.1,91.5,91.9,92.3,92.7,93.1,93.5,94,94.4,94.8,95.2,96.1,96.3,97.7,104.7]],
  [52.5,[77.8,79,81.4,81.7,82,82.6,82.9,85.7,86.1,86.4,86.9,87.5,87.9,88.3,88.8,89.2,89.6,90.2,90.6,91,91.4,91.8,92.2,92.8,93.2,93.6,94.4,94.8,95.4,95.8,96.2,96.5,97.7,99.4,100.7,102.4]],
  [50,[70,80.4,82.9,84.4,85.4,86.9,87.5,87.9,88.5,88.9,89.3,89.7,90.2,90.6,91,91.4,91.8,92.2,92.8,93.2,93.6,94,94.4,94.8,95.2,95.6,96,96.4,97.7,99.4,100.7,101.4,101.7,102.4,103,103.7]],
  [47.5,[81.4,82,82.7,84.5,85.8,86,87.4,87.8,88.2,88.8,89.2,90,90.4,90.8,91.2,91.6,92,92.6,93,93.4,93.8,94.2,94.6,96.3,97.7,99.4,100.7,101.6,104.2]],
  [45,[70,77.8,80.4,81.7,82.7,83.2,83.7,84.4,84.6,87.6,88,88.5,89.8,90.2,91,91.4,91.8,92.2,92.6,93,93.4,93.8,94.2,94.6,95,95.4,95.8,96.2,97.7,98.4,102,103.1,103.7,104.7]],
  [42.5,[77,80,80.4,82.4,82.7,84.5,85.4,85.7,87.4,87.8,88.2,88.5,89.1,89.5,89.9,90.3,90.7,91.1,91.5,91.9,92.3,92.7,93.2,93.6,94.4,94.8,95.2,95.6,96,96.3,97.7,98.1,99.4,102.4,104.1]],
  [40,[80.8,81.4,82.9,83.7,84.4,85.4,85.9,86.3,87.4,87.9,88.3,88.8,89.2,89.6,90.2,90.6,91,91.4,91.8,92.2,93.4,93.8,94.2,94.6,95,95.4,95.8,96.1,96.3,97.7,99.4,99.7,101,104.7,104.9]],
  [37.5,[77.8,80.4,81.4,82.5,84.5,85.5,85.9,86.2,87.5,88.5,88.9,89.3,89.7,90.1,90.5,90.9,91.3,91.7,92.1,92.5,92.9,93.3,93.7,94.1,94.5,94.9,95.3,95.7,97.4,97.7,99.4,100.7,101.6,102.4,102.7,103,106.4]],
  [35,[80,81.2,81.6,82.4,82.7,84.4,85.2,85.7,87.1,87.5,87.9,88.4,89.1,89.9,90.3,90.7,91.1,91.5,91.9,92.3,92.7,93,94,94.4,94.8,95.3,95.7,96.1,96.6,97.7,99.9,100.7,102.4,103.6,104.7]],
  [32.5,[77,80,81.1,81.8,82.4,82.7,83,83.3,84.5,86,86.3,87.4,87.7,88.4,89,89.4,90.2,90.6,91,91.4,91.8,92.2,92.6,93,93.4,93.8,94.6,95,95.4,96,96.3,97.7,99.4,100.7,101.4,101.7,102.4,103.5,104.1]],
  [30,[73,77.8,80.8,81.2,81.7,82.4,82.9,83.9,84.2,84.6,85.2,86,86.3,87.4,87.7,88.1,88.5,89.1,89.5,90,90.3,90.7,91.1,91.5,91.9,92.3,93,93.4,93.8,94.2,94.6,95,95.4,96.1,97.7,99.4,104.2]],
  [27.5,[77,79.5,80.4,81,81.3,84.5,86,86.3,87.4,87.8,88.5,89.1,89.4,89.8,90.2,90.6,91,91.4,91.8,92.2,92.6,93,93.4,93.8,94.2,94.6,95,95.4,95.8,96.2,97.7,99.2,99.5,100.7,102.4,105.4,105.6]],
  [25,[76,77.8,78.5,80,81.3,81.7,82.9,84.2,84.6,85.2,85.7,86.2,87.1,87.5,87.9,88.3,88.7,89.1,89.5,89.9,90.3,90.7,91.1,91.5,91.9,92.3,92.7,93.1,93.5,94.5,94.9,95.6,96,97.7,99.4,101.6,104.2]],
  [22.5,[80,80.8,81.3,81.7,83,83.8,84.2,87.5,87.9,88.3,88.8,89.2,89.6,90,90.7,91,91.4,91.8,92.2,92.6,93.2,93.9,94.3,94.7,95.1,95.5,95.9,96.1,96.9,97.6,97.9,99.4,102.4,104.7,106.1]],
  [20,[80,80.4,81.2,81.5,83,84.5,85.2,85.6,86,87.2,87.8,88.2,88.8,89.2,89.6,90,90.4,90.8,91.2,91.6,92,92.4,92.8,93.2,93.6,94.4,94.8,95.2,96.2,97.7,99.1,99.4,100.7,101.6,104.3,105.4]],
  [17.5,[74.8,77.8,80,80.4,80.8,81.2,82.9,83.7,84.5,85.6,86,86.4,86.8,87.2,87.6,88.4,89.2,89.6,90,90.4,90.8,91.2,91.6,92,92.4,92.8,93.2,93.6,94.1,94.6,95,95.4,95.8,96.2,96.6,97,97.4,97.7,99.4,102.4,103,103.7]],
  [15,[81.2,81.5,81.8,82.1,82.7,83,83.7,84.5,86.2,87.3,87.6,88,88.4,89.2,90.2,90.6,91.4,92,92.3,92.7,93.1,93.6,94.3,94.6,95,95.4,95.9,97.7,99.4,100.7,101.6,104.1,104.7]],
  [12.5,[70,77,80,80.4,81.7,82.5,82.9,85.5,85.8,86.2,87.4,87.7,88.5,89.1,89.9,90.2,90.6,91,91.4,91.8,92.2,92.6,93.2,93.6,94,94.4,94.8,95.2,95.6,97.7,98.2,99.4,101.6,103.1,106.4]],
  [10,[81.5,82.5,84.5,85.5,85.9,86.3,87.1,87.5,87.9,88.4,88.8,89.2,89.6,90.4,90.8,91.2,91.6,92,92.5,93.1,93.5,94.2,94.6,95,96,96.3,97.7,99.1,99.4,100.7,101.6]],
  [7.5,[80.4,82.9,84.5,85.5,85.8,86.2,87.4,88.2,88.8,89.1,90.2,90.5,90.8,91.1,91.4,92.6,93,93.3,93.6,94,94.4,95.3,95.6,96.1,97.7,99.4,100.7]],
  [5,[82.1,82.5,84.4,85,85.3,85.8,86.2,87.4,87.8,88.4,89.2,90.3,90.7,91,91.4,92.2,92.5,93.1,93.4,93.8,94.2,96.4]],
  [2.5,[77,85.2,85.8,86,86.3,87.4,88.2,89,90.2,90.5,91,94.4,94.7,96.4,97.7,99.4,100.7]],
  [0,[80.4,85.4,85.8,86.2,86.4,88,89.5,90.4,90.7,91.2,91.5,92.6,93.2,94.4,94.7,96,99.4,100.7]],
  [-2.5,[87.9,90.3]]
];

const panelPoints = [pointsA, pointsB, pointsC, pointsD, pointsE, pointsF];
const panelLetters = ['A', 'B', 'C', 'D', 'E', 'F'];
const panelTitles = ['3 kHz', '4 kHz', '6 kHz', '8 kHz', '10 kHz', '12.5 kHz'];
const slopeLabels = [
  'Slope: 0.27 dB/dBA-year; Y: 0 dB HL',
  'Slope: 0.36 dB/dBA-year; Y: 0 dB HL',
  'Slope: 0.31 dB/dBA-year; Y: 0 dB HL',
  'Slope: 0.27 dB/dBA-year; Y: 0 dB HL',
  'Slope: 0.32 dB/dBA-year; Y: 0 dB HL',
  'Slope: 0.40 dB/dBA-year; Y: 0 dB HL'
];
const fitStart = [[70, 18.7], [70, 24.7], [70, 21.4], [70, 19.1], [70, 22.4], [70, 28.3]];
const fitEnd = [[106.5, 28.5], [106.3, 37.5], [106.5, 32.6], [106.4, 29.2], [106.4, 34.1], [106.4, 43.1]];
const xTicks = [70, 80, 90, 100, 110];
const yTicks = [-10, 0, 10, 20, 30, 40, 50, 60, 70, 80, 90, 100];

// layout in page pixels
const plotLeft = [166, 1499, 2831];
const plotTop = [189, 1633];
const plotW = 995;
const plotH = 1040;
const tagLeft = [2, 1333, 2666];
const tagTop = [49, 1493];
const xNameGap = [126, 137];   // axis line to middle of the CNE label, per row
const slopeAt = [95.05, 94.8]; // height of the slope note on the dB scale, per row
const yGutter = 167, xGutter = 170, padTop = 50, padRight = 70;

const ink = '#111111';
const dotColor = '#2b5352';
const gridColor = '#dcdcdc';
const fontFamily = '"Noto Sans", sans-serif';

// slope note inside the plot and the CNE label under the 90 tick
const panelNotes = {
  id: 'panelNotes',
  afterDatasetsDraw(chart, args, opts) {
    const { ctx, scales } = chart;
    ctx.save();
    ctx.fillStyle = ink;
    ctx.textAlign = 'center';
    ctx.textBaseline = 'middle';
    ctx.font = '600 44px ' + fontFamily;
    ctx.fillText(opts.text, scales.x.getPixelForValue(90), scales.y.getPixelForValue(opts.noteAt), 738);
    ctx.font = '400 47px ' + fontFamily;
    ctx.fillText('CNE', scales.x.getPixelForValue(90), chart.chartArea.bottom + opts.nameGap);
    ctx.restore();
  }
};

function makePanel(i) {
  const col = i % 3, row = Math.floor(i / 3);

  const tag = document.createElement('div');
  tag.className = 'tag';
  tag.textContent = panelLetters[i];
  tag.style.left = tagLeft[col] + 'px';
  tag.style.top = tagTop[row] + 'px';
  document.body.appendChild(tag);

  const freq = document.createElement('div');
  freq.className = 'freq';
  freq.textContent = panelTitles[i];
  freq.style.left = (tagLeft[col] + 101) + 'px';
  freq.style.top = tagTop[row] + 'px';
  document.body.appendChild(freq);

  const canvas = document.createElement('canvas');
  canvas.width = yGutter + plotW + padRight;
  canvas.height = padTop + plotH + xGutter;
  canvas.style.left = (plotLeft[col] - yGutter) + 'px';
  canvas.style.top = (plotTop[row] - padTop) + 'px';
  document.body.appendChild(canvas);

  const scatter = [];
  panelPoints[i].forEach(r => r[1].forEach(x => scatter.push({ x: x, y: r[0] })));

  new Chart(canvas.getContext('2d'), {
    type: 'scatter',
    data: {
      datasets: [
        {
          type: 'line',
          data: [{ x: fitStart[i][0], y: fitStart[i][1] }, { x: fitEnd[i][0], y: fitEnd[i][1] }],
          borderColor: '#000',
          borderWidth: 7,
          pointRadius: 0,
          order: 0
        },
        {
          data: scatter,
          backgroundColor: dotColor,
          borderWidth: 0,
          pointRadius: 8,
          order: 1
        }
      ]
    },
    plugins: [panelNotes],
    options: {
      responsive: false,
      animation: false,
      devicePixelRatio: 1,
      layout: { autoPadding: false, padding: { top: padTop, right: padRight, left: 0, bottom: 0 } },
      plugins: {
        legend: { display: false },
        tooltip: { enabled: false },
        panelNotes: { text: slopeLabels[i], nameGap: xNameGap[row], noteAt: slopeAt[row] }
      },
      scales: {
        x: {
          type: 'linear',
          min: 67.94,
          max: 110,
          afterFit: s => { s.height = xGutter; },
          afterBuildTicks: s => { s.ticks = xTicks.map(v => ({ value: v })); },
          border: { color: ink, width: 2 },
          grid: { drawOnChartArea: false, color: ink, tickLength: 16, tickWidth: 2 },
          ticks: { color: ink, padding: 12, maxRotation: 0, autoSkip: false, font: { family: fontFamily, size: 47 } }
        },
        y: {
          min: -10,
          max: 100,
          afterFit: s => { s.width = yGutter; },
          afterBuildTicks: s => { s.ticks = yTicks.map(v => ({ value: v })); },
          border: { color: ink, width: 2 },
          grid: { color: gridColor, lineWidth: 4, tickColor: ink, tickLength: 16, tickWidth: 2 },
          ticks: { color: ink, padding: 11, labelOffset: 2.5, autoSkip: false, font: { family: fontFamily, size: 47 } },
          title: { display: true, text: 'dB HL', color: ink, padding: { top: 6, bottom: 0 }, font: { family: fontFamily, size: 47 } }
        }
      }
    }
  });
}

panelPoints.forEach((p, i) => makePanel(i));
</script>
</body>
</html>
